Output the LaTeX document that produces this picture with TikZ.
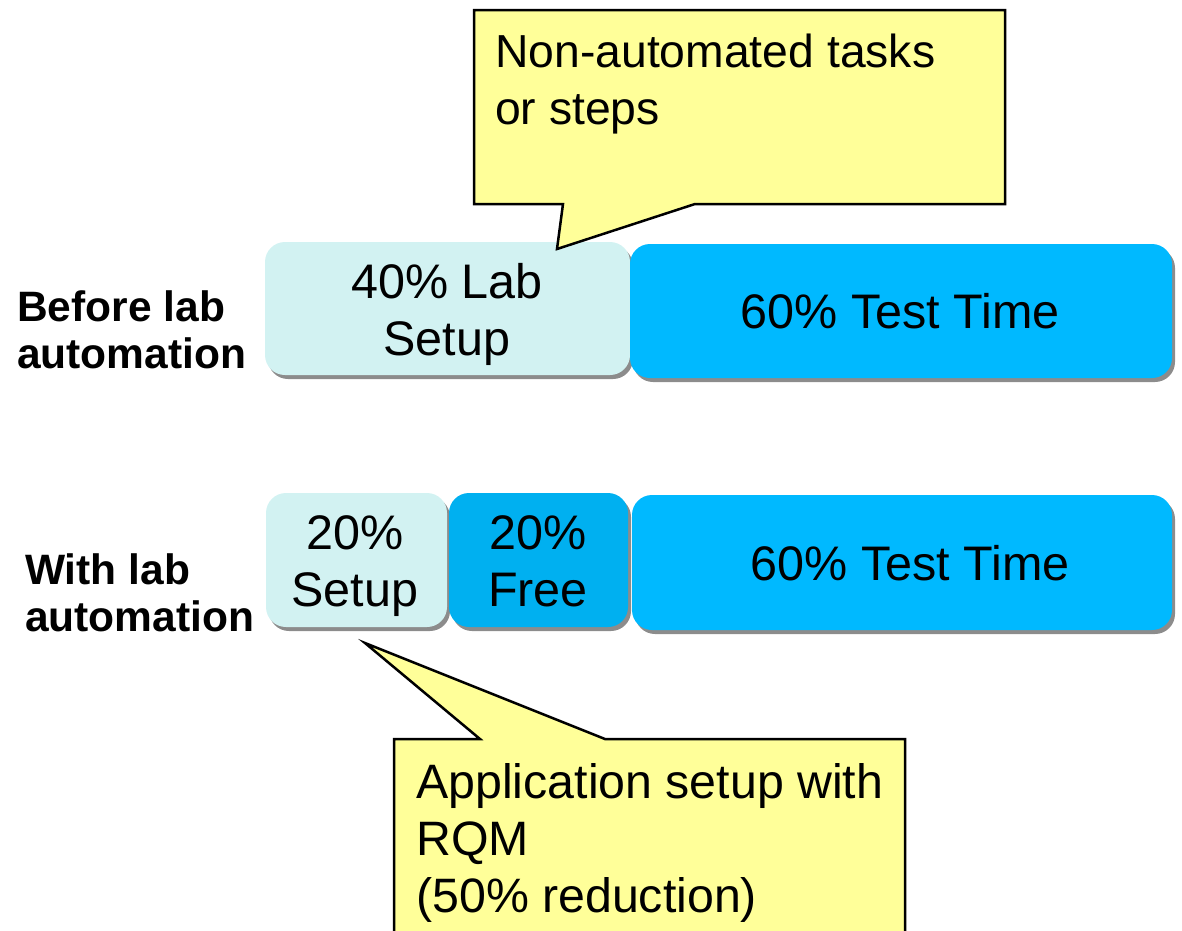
\documentclass[tikz,border=0pt]{standalone}
\usepackage{fontspec}
\setmainfont{Liberation Sans}
\usetikzlibrary{shadows}
\definecolor{lightc}{RGB}{210,242,242}
\definecolor{bluec}{RGB}{0,185,255}
\definecolor{midc}{RGB}{0,176,240}
\definecolor{yellowc}{RGB}{255,255,153}
\begin{document}
\begin{tikzpicture}[x=1pt,y=-1pt,
  bar/.style={rectangle, rounded corners=20pt, draw=none, inner sep=0pt,
    drop shadow={shadow xshift=3pt, shadow yshift=-4pt, fill=black!45, opacity=1}},
  bartext/.style={inner sep=0pt, align=center, font=\fontsize{48.5}{57}\selectfont},
  rowlabel/.style={anchor=north west, inner sep=0pt, align=left, font=\bfseries\fontsize{42.5}{47}\selectfont},
  callout/.style={draw=black, line width=2.5pt, fill=yellowc, line join=miter},
  callouttext/.style={anchor=north west, inner sep=0pt, align=left}]
\useasboundingbox (0,0) rectangle (1182,930);
\clip (0,0) rectangle (1182,930);

% row labels
\node[rowlabel] (lbl1) at (17,290) {Before lab\\automation};
\node[rowlabel] (lbl2) at (25,553) {With lab\\automation};

% before row
\node[bar, fill=lightc, minimum width=365pt, minimum height=133pt] (setup1) at (447.5,308.5) {};
\node[bar, fill=bluec, minimum width=542pt, minimum height=134pt] (test1) at (901,311) {};
\node[bartext] (setup1t) at (447,314.5) {40\% Lab\\Setup};
\node[bartext] (test1t) at (900,311.5) {60\% Test Time};

% with row
\node[bar, fill=lightc, minimum width=181pt, minimum height=134pt] (setup2) at (356.5,560) {};
\node[bar, fill=midc, minimum width=179pt, minimum height=134pt] (free2) at (538.5,560) {};
\node[bar, fill=bluec, minimum width=540pt, minimum height=135pt] (test2) at (902,562.5) {};
\node[bartext] (setup2t) at (355,566) {20\%\\Setup};
\node[bartext] (free2t) at (538,561) {20\%\\Free};
\node[bartext] (test2t) at (910,563) {60\% Test Time};

% top callout
\draw[callout] (474,10) -- (1005,10) -- (1005,204) -- (695,204) -- (557,249) -- (563,204) -- (474,204) -- cycle;
\node[callouttext, font=\fontsize{46.3}{57}\selectfont] (note1) at (495,34) {Non-automated tasks\\or steps};

% bottom callout
\draw[callout] (394,739) -- (480,739) -- (365,643) -- (605,739) -- (905,739) -- (905,960) -- (394,960) -- cycle;
\node[callouttext, font=\fontsize{48.3}{57}\selectfont] (note2) at (416,763) {Application setup with\\RQM\\(50\% reduction)};
\end{tikzpicture}
\end{document}
